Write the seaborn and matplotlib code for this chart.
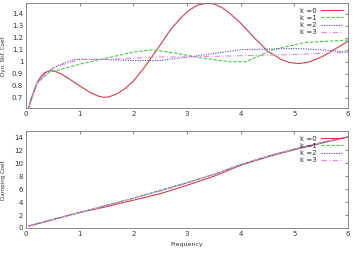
import matplotlib
matplotlib.use("Agg")
import matplotlib.pyplot as plt
import seaborn as sns
import pandas as pd

series_labels = ["k =0", "k =1", "k =2", "k =3"]

# Top panel: dynamic stiffness coefficient
freq0 = [0.05, 0.1, 0.15, 0.2, 0.25, 0.3, 0.35, 0.42, 0.48, 0.55, 0.65, 0.8, 1.0, 1.2, 1.35, 1.45, 1.55, 1.7, 1.85, 2.0, 2.2, 2.44, 2.7, 2.9, 3.05, 3.2, 3.36, 3.5, 3.65, 3.8, 4.0, 4.25, 4.5, 4.75, 4.9, 5.08, 5.25, 5.4, 5.55, 5.7, 5.85, 6.0]
stif0 = [0.62, 0.70, 0.76, 0.82, 0.86, 0.89, 0.91, 0.922, 0.925, 0.92, 0.90, 0.86, 0.80, 0.745, 0.715, 0.705, 0.71, 0.735, 0.78, 0.84, 0.95, 1.10, 1.27, 1.37, 1.43, 1.47, 1.485, 1.48, 1.45, 1.40, 1.32, 1.20, 1.09, 1.02, 0.995, 0.985, 0.995, 1.02, 1.05, 1.09, 1.13, 1.17]
freq1 = [0.05, 0.2, 0.45, 0.6, 1.0, 1.5, 2.0, 2.35, 2.8, 3.3, 3.8, 4.1, 4.6, 5.2, 6.0]
stif1 = [0.62, 0.82, 0.92, 0.93, 0.98, 1.03, 1.08, 1.10, 1.07, 1.03, 1.00, 1.00, 1.10, 1.16, 1.18]
freq2 = [0.05, 0.2, 0.35, 0.6, 0.9, 1.4, 2.0, 2.5, 3.2, 4.0, 5.0, 5.5, 6.0]
stif2 = [0.62, 0.82, 0.90, 0.97, 1.02, 1.02, 1.01, 1.01, 1.05, 1.10, 1.11, 1.10, 1.08]
freq3 = [0.05, 0.2, 0.35, 0.5, 1.0, 1.5, 2.0, 2.5, 3.0, 4.0, 5.0, 6.0]
stif3 = [0.62, 0.82, 0.89, 0.95, 1.02, 1.02, 1.03, 1.04, 1.04, 1.05, 1.06, 1.08]

# Bottom panel: damping coefficient
freq_d = [0.05, 0.5, 1.0, 1.5, 2.0, 2.5, 3.0, 3.5, 4.0, 4.5, 5.0, 5.5, 6.0]
damp0 = [0.3, 1.3, 2.4, 3.3, 4.3, 5.3, 6.6, 8.0, 9.7, 11.0, 12.1, 13.1, 14.1]
damp1 = [0.3, 1.3, 2.4, 3.5, 4.6, 5.8, 7.0, 8.3, 9.8, 11.1, 12.2, 13.2, 14.1]
damp2 = [0.3, 1.3, 2.4, 3.5, 4.6, 5.8, 7.0, 8.3, 9.8, 11.1, 12.2, 13.2, 14.1]
damp3 = [0.3, 1.3, 2.4, 3.5, 4.6, 5.7, 6.9, 8.3, 9.8, 11.1, 12.2, 13.2, 14.1]

xticks = [0, 1, 2, 3, 4, 5, 6]
yticks_top = [0.7, 0.8, 0.9, 1.0, 1.1, 1.2, 1.3, 1.4]
ytick_labels_top = ["0.7", "0.8", "0.9", "1", "1.1", "1.2", "1.3", "1.4"]
yticks_bot = [0, 2, 4, 6, 8, 10, 12, 14]

top_df = pd.concat([
    pd.DataFrame({"f": freq0, "v": stif0, "k": series_labels[0]}),
    pd.DataFrame({"f": freq1, "v": stif1, "k": series_labels[1]}),
    pd.DataFrame({"f": freq2, "v": stif2, "k": series_labels[2]}),
    pd.DataFrame({"f": freq3, "v": stif3, "k": series_labels[3]}),
])
bot_df = pd.concat([
    pd.DataFrame({"f": freq_d, "v": d, "k": lab})
    for d, lab in zip([damp0, damp1, damp2, damp3], series_labels)
])

sns.set_style("white")
plt.rcParams["font.family"] = ["DejaVu Sans"]

palette = {"k =0": "#d0404a", "k =1": "#44cc44", "k =2": "#4a4ac8", "k =3": "#e08ae0"}
dashes = {"k =0": "", "k =1": (3, 1.5), "k =2": (1, 1.2), "k =3": (5, 2, 1, 2)}

fig = plt.figure(figsize=(3.55, 2.57), dpi=100)
ax1 = fig.add_axes([26/355, 1-108/257, 322/355, 105/257])
ax2 = fig.add_axes([26/355, 1-228/257, 322/355, 97/257])

for ax, df in [(ax1, top_df), (ax2, bot_df)]:
    sns.lineplot(data=df, x="f", y="v", hue="k", style="k", palette=palette,
                 dashes=dashes, linewidth=0.8, ax=ax, sort=False, estimator=None)
    ax.set_xlim(0, 6)
    ax.set_xticks(xticks)
    ax.tick_params(direction="in", length=2.5, width=0.5, labelsize=5, pad=2,
                   top=True, right=True, colors="#555555", labelcolor="#333333")
    for s in ax.spines.values():
        s.set_color("#777777")
        s.set_linewidth(0.6)
    leg = ax.legend(loc="upper right", frameon=False, fontsize=5, markerfirst=False,
                    handlelength=3.2, labelspacing=0.15, borderaxespad=0.3,
                    handletextpad=0.6)
    for t in leg.get_texts():
        t.set_color("#333333")

ax1.set_ylim(0.617, 1.487)
ax1.set_yticks(yticks_top)
ax1.set_yticklabels(ytick_labels_top)
ax1.set_xlabel("")
ax1.set_ylabel("Dyn. Stif. Coef.", fontsize=4, color="#333333", labelpad=4)

ax2.set_ylim(0, 15)
ax2.set_yticks(yticks_bot)
ax2.set_xlabel("Frequency", fontsize=4.5, color="#333333", labelpad=4)
ax2.set_ylabel("Damping Coef.", fontsize=4, color="#333333", labelpad=6)

fig.savefig("out.png", dpi=100)
